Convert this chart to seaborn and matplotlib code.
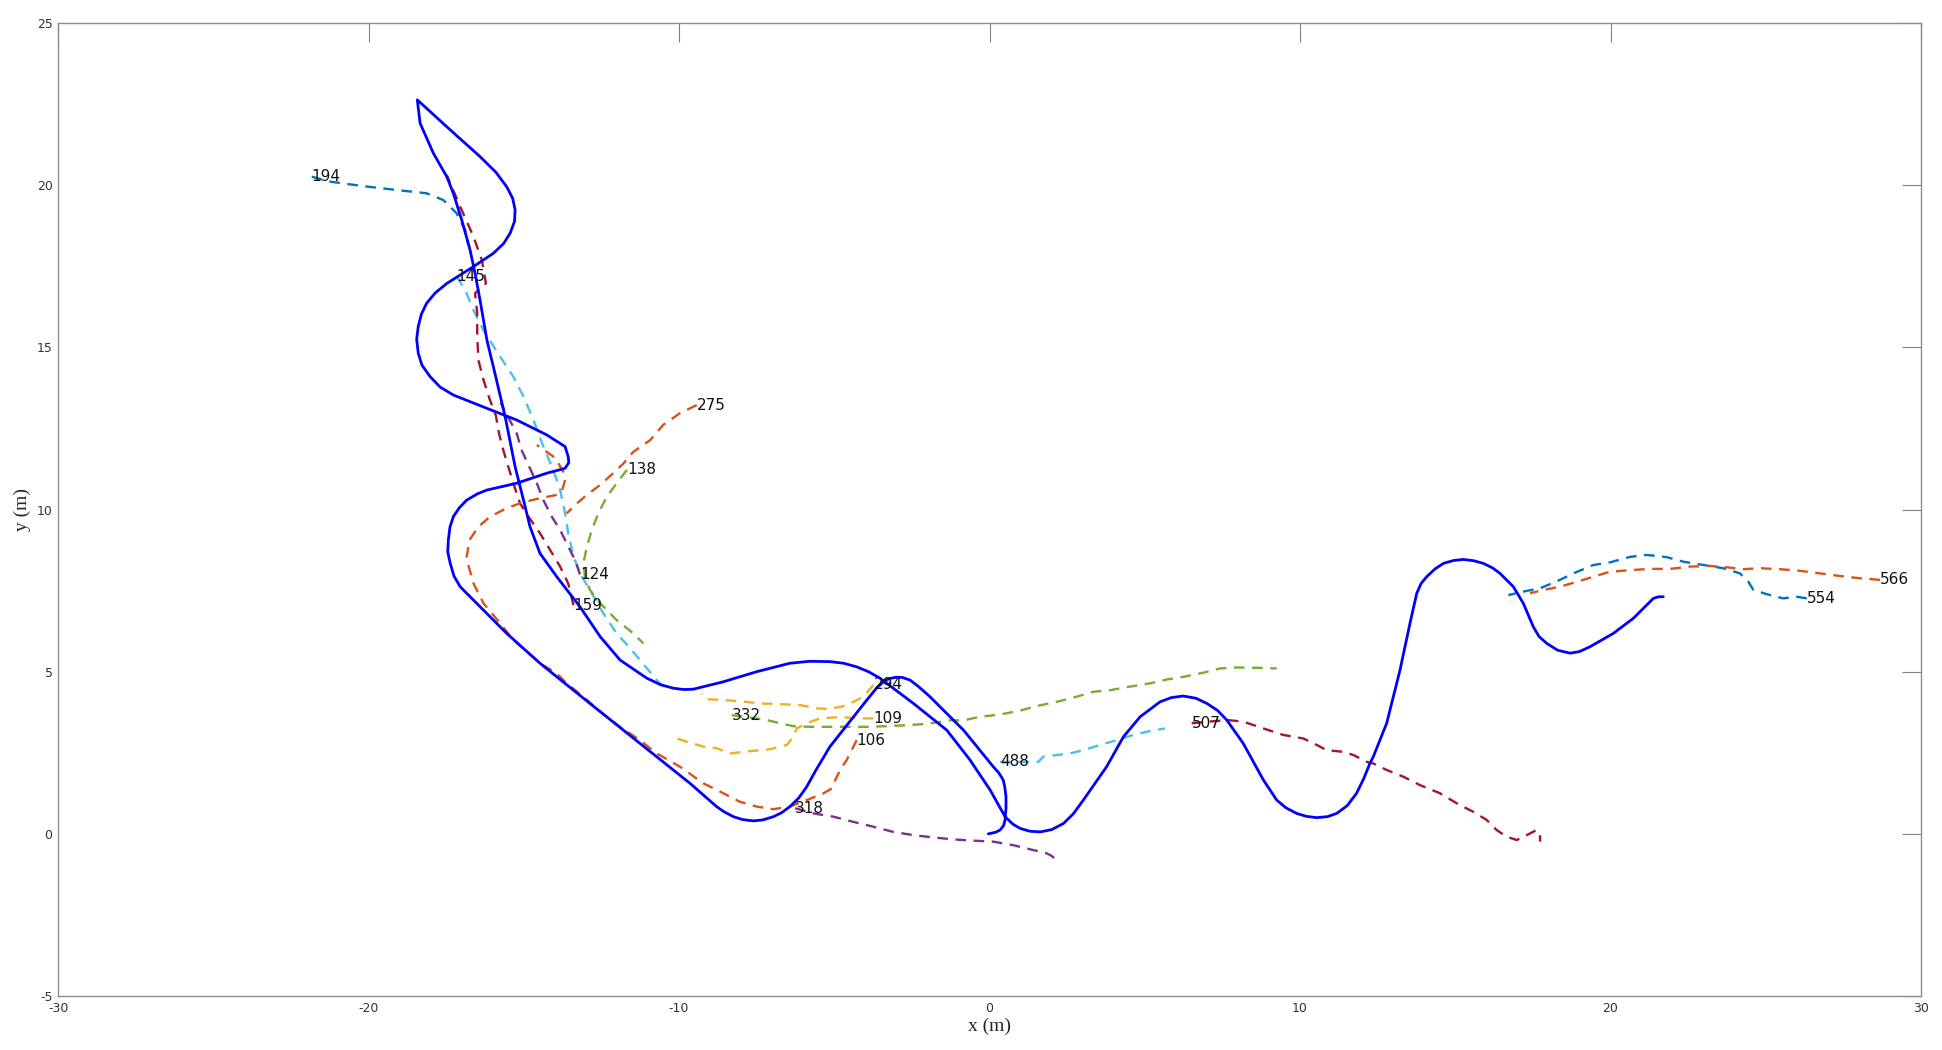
import matplotlib
matplotlib.use("Agg")
import matplotlib.pyplot as plt
import seaborn as sns
import numpy as np

# ---------------- data ----------------
ego_x = [-0.04, 0.20, 0.34, 0.45, 0.50, 0.53, 0.53, 0.49, 0.44, 0.30, 0.12, -0.84, -1.92, -2.30,
         -2.56, -2.80, -2.99, -3.22, -3.42, -3.65, -3.95, -5.14, -5.60, -5.89, -6.15, -6.43, -6.70,
         -6.96, -7.30, -7.61, -7.95, -8.25, -8.55, -8.79, -9.65, -11.26, -12.87, -14.48, -15.55,
         -16.62, -17.05, -17.25, -17.37, -17.45, -17.43, -17.38, -17.27, -17.08, -16.84, -16.50,
         -16.19, -15.23, -14.26, -13.67, -13.55, -13.57, -13.67, -14.26, -15.23, -16.19, -17.27,
         -17.70, -18.02, -18.28, -18.40, -18.45, -18.40, -18.30, -18.13, -17.85, -17.48, -16.62,
         -15.98, -15.65, -15.44, -15.30, -15.28, -15.36, -15.55, -15.90, -16.41, -17.48, -18.43,
         -18.34, -17.91, -17.48, -17.27, -17.00, -16.73, -16.57, -16.41, -16.19, -15.98, -15.60,
         -15.28, -15.01, -14.80, -14.48, -13.94, -13.19, -12.54, -11.90, -11.04, -10.60, -10.18,
         -9.85, -9.54, -8.57, -7.50, -6.43, -5.80, -5.14, -4.70, -4.28, -3.90, -3.53, -2.45, -1.38,
         -0.63, 0.02, 0.50, 0.75, 0.98, 1.30, 1.63, 2.00, 2.38, 2.70, 3.02, 3.77, 4.31, 4.85, 5.49,
         5.85, 6.24, 6.65, 7.00, 7.35, 7.64, 8.17, 8.82, 9.25, 9.55, 9.89, 10.20, 10.54, 10.88,
         11.18, 11.52, 11.82, 12.05, 12.25, 12.36, 12.79, 13.22, 13.54, 13.76, 13.90, 14.08, 14.35,
         14.62, 14.95, 15.26, 15.60, 15.90, 16.20, 16.44, 16.87, 17.19, 17.51, 17.70, 17.95, 18.30,
         18.70, 19.00, 19.34, 20.09, 20.74, 21.38, 21.55, 21.70]
ego_y = [0.00, 0.05, 0.12, 0.25, 0.43, 0.80, 1.14, 1.45, 1.66, 1.88, 2.07, 3.20, 4.23, 4.55,
         4.74, 4.82, 4.83, 4.79, 4.69, 4.48, 4.13, 2.69, 1.95, 1.45, 1.10, 0.84, 0.65,
         0.53, 0.43, 0.40, 0.44, 0.53, 0.68, 0.84, 1.56, 2.79, 4.02, 5.26, 6.18,
         7.21, 7.62, 7.95, 8.34, 8.70, 9.06, 9.45, 9.78, 10.05, 10.29, 10.48,
         10.60, 10.81, 11.12, 11.27, 11.45, 11.63, 11.94, 12.30, 12.76, 13.12, 13.53,
         13.78, 14.10, 14.45, 14.82, 15.25, 15.64, 16.02, 16.36, 16.68, 16.97, 17.49,
         17.90, 18.20, 18.52, 18.88, 19.24, 19.60, 19.95, 20.40, 20.88, 21.80, 22.63,
         21.91, 20.98, 20.26, 19.75, 18.93, 18.00, 17.28, 16.46, 15.23, 14.40, 12.86,
         11.32, 10.29, 9.47, 8.65, 7.93, 7.00, 6.08, 5.36, 4.80, 4.60, 4.49,
         4.45, 4.46, 4.69, 5.00, 5.26, 5.32, 5.31, 5.26, 5.15, 5.00, 4.80, 4.02, 3.20,
         2.28, 1.35, 0.53, 0.30, 0.17, 0.08, 0.06, 0.13, 0.32, 0.62, 1.04, 2.07, 2.99, 3.61, 4.07,
         4.20, 4.25, 4.18, 4.02, 3.80, 3.51, 2.79, 1.66, 1.04, 0.80, 0.63, 0.54, 0.50, 0.53,
         0.63, 0.87, 1.25, 1.70, 2.17, 2.38, 3.41, 5.05, 6.49, 7.42, 7.72, 7.93, 8.17,
         8.34, 8.43, 8.46, 8.42, 8.34, 8.20, 8.03, 7.62, 7.11, 6.39, 6.08, 5.87, 5.66,
         5.57, 5.62, 5.77, 6.18, 6.65, 7.26, 7.31, 7.31]

# tracked objects: first point of each track carries its ID label
track_ids = ["194", "145", "275", "138", "124", "159", "106", "294", "109",
             "332", "318", "488", "507", "554", "566"]

t194_x = [-21.83, -21.24, -20.17, -19.09, -18.13, -17.59, -17.16, -16.89, -16.80]
t194_y = [20.26, 20.11, 19.97, 19.85, 19.75, 19.54, 19.13, 18.62, 18.20]

t145_x = [-17.16, -16.89, -16.60, -16.30, -15.76, -15.34, -15.01, -14.69, -14.37, -14.05, -13.83,
          -13.67, -13.57, -13.40, -13.13, -12.81, -12.44, -12.01, -11.60, -11.26, -10.72, -10.51]
t145_y = [17.18, 16.77, 16.10, 15.53, 14.71, 14.10, 13.48, 12.76, 11.94, 11.22, 10.60,
          9.88, 9.27, 8.54, 7.93, 7.42, 6.80, 6.18, 5.75, 5.36, 4.74, 4.54]

t275_x = [-9.43, -9.97, -10.51, -10.93, -11.47, -11.79, -12.12, -12.54, -12.97, -13.29, -13.62]
t275_y = [13.22, 12.97, 12.61, 12.14, 11.78, 11.42, 11.12, 10.76, 10.45, 10.19, 9.88]

t138_x = [-11.68, -12.01, -12.33, -12.60, -12.81, -12.97, -13.08, -13.03, -12.87, -12.54, -12.01,
          -11.47, -11.15]
t138_y = [11.22, 10.81, 10.39, 9.88, 9.37, 8.85, 8.34, 7.93, 7.52, 7.11, 6.59, 6.18, 5.87]

t124_x = [-13.19, -13.35, -13.46, -13.67, -13.83, -14.10, -14.37, -14.58, -14.80, -15.07, -15.23,
          -15.60, -15.75]
t124_y = [8.00, 8.44, 8.65, 9.06, 9.37, 9.78, 10.29, 10.81, 11.27, 11.83, 12.35, 13.02, 13.30]

t159_x = [-13.40, -13.57, -13.83, -14.15, -14.48, -14.85, -15.12, -15.30, -15.50, -15.66, -15.80,
          -15.90, -16.10, -16.30, -16.46, -16.50, -16.50, -16.57, -16.22, -16.35, -16.62, -17.05,
          -17.48]
t159_y = [7.05, 7.72, 8.24, 8.75, 9.27, 9.78, 10.19, 10.70, 11.32, 11.83, 12.35,
          12.90, 13.40, 14.00, 14.60, 15.33, 16.05, 16.67, 16.97, 17.69, 18.41, 19.34,
          20.31]

t106_x = [-4.28, -4.44, -4.60, -4.81, -4.97, -5.08, -5.35, -5.89, -6.43, -6.96, -7.50, -8.04,
          -8.57, -9.22, -9.97, -10.72, -11.26, -11.90, -12.54, -13.08, -13.62, -13.94, -14.48,
          -14.90, -15.34, -15.76, -16.30, -16.62, -16.79, -16.84, -16.75, -16.46, -16.09, -15.55,
          -15.07, -14.48, -13.94, -13.78, -13.67, -13.73, -14.00, -14.58]
t106_y = [2.89, 2.58, 2.28, 1.97, 1.66, 1.40, 1.25, 1.04, 0.84, 0.76, 0.84, 0.99,
          1.25, 1.56, 2.07, 2.48, 2.89, 3.30, 3.77, 4.23, 4.64, 4.95, 5.26,
          5.62, 5.98, 6.49, 7.11, 7.72, 8.30, 8.54, 9.06, 9.47, 9.78, 10.04,
          10.21, 10.35, 10.45, 10.55, 10.91, 11.17, 11.60, 11.99]

t294_x = [-3.74, -4.06, -4.39, -4.76, -5.20, -5.57, -6.10, -6.75, -7.39, -8.04, -8.62, -9.11, -9.27]
t294_y = [4.59, 4.23, 4.07, 3.92, 3.85, 3.87, 3.97, 4.00, 4.02, 4.09, 4.13, 4.15, 4.33]

t109_x = [-3.74, -4.20, -4.80, -5.46, -5.89, -6.21, -6.32, -6.53, -7.07, -7.71, -8.36, -8.79,
          -9.22, -9.75, -10.07]
t109_y = [3.56, 3.56, 3.60, 3.56, 3.41, 3.25, 2.99, 2.74, 2.61, 2.55, 2.48, 2.64,
          2.69, 2.84, 2.94]

t332_x = [-8.30, -7.18, -6.75, -6.32, -5.78, -5.24, -4.60, -3.95, -3.31, -2.67, -2.02, -1.27,
          -0.84, -0.31, 0.34, 0.98, 1.52, 2.16, 2.81, 3.34, 3.88, 4.52, 5.17, 5.71, 6.24, 6.89,
          7.42, 7.96, 8.61, 9.25]
t332_y = [3.66, 3.51, 3.41, 3.32, 3.30, 3.30, 3.30, 3.30, 3.32, 3.35, 3.39, 3.50,
          3.50, 3.61, 3.68, 3.80, 3.94, 4.07, 4.23, 4.38, 4.43, 4.54, 4.64, 4.76, 4.84, 4.97,
          5.10, 5.13, 5.12, 5.10]

t318_x = [-6.26, -5.67, -5.03, -4.39, -3.74, -3.10, -2.45, -1.81, -1.17, -0.52, 0.12, 0.77,
          1.41, 1.84, 2.00, 2.22]
t318_y = [0.79, 0.63, 0.53, 0.37, 0.22, 0.06, -0.04, -0.11, -0.17, -0.21, -0.24, -0.35,
          -0.50, -0.60, -0.68, -0.86]

t488_x = [0.34, 1.57, 1.73, 2.16, 2.59, 3.02, 3.56, 4.10, 4.63, 5.17, 5.65]
t488_y = [2.22, 2.22, 2.38, 2.43, 2.48, 2.58, 2.74, 2.89, 3.05, 3.17, 3.25]

t507_x = [6.51, 7.64, 8.17, 8.82, 9.46, 10.11, 10.54, 10.86, 11.39, 11.72, 12.15, 12.36, 12.79,
          13.33, 13.87, 14.51, 15.05, 15.58, 16.01, 16.33, 16.66, 16.98, 17.30, 17.62, 17.73, 17.73]
t507_y = [3.41, 3.51, 3.46, 3.25, 3.05, 2.94, 2.74, 2.58, 2.53, 2.43, 2.22, 2.17, 1.97,
          1.76, 1.50, 1.25, 0.94, 0.68, 0.43, 0.12, -0.09, -0.19, -0.04, 0.12, -0.04, -0.24]

t554_x = [26.32, 26.00, 25.56, 25.03, 24.60, 24.44, 24.17, 23.63, 22.99, 22.35, 21.81, 21.17,
          20.63, 19.98, 19.45, 18.80, 18.37, 17.73, 17.19, 16.71]
t554_y = [7.26, 7.31, 7.26, 7.39, 7.52, 7.77, 8.03, 8.19, 8.29, 8.39, 8.53, 8.60,
          8.54, 8.37, 8.29, 8.03, 7.83, 7.57, 7.47, 7.36]

t566_x = [28.68, 28.04, 27.39, 26.75, 26.10, 25.46, 24.81, 24.28, 23.74, 23.20, 22.56, 21.92,
          21.27, 20.63, 19.98, 19.45, 18.91, 18.37, 17.84, 17.41]
t566_y = [7.83, 7.88, 7.95, 8.03, 8.11, 8.16, 8.19, 8.16, 8.22, 8.26, 8.24, 8.17,
          8.17, 8.13, 8.08, 7.93, 7.77, 7.62, 7.52, 7.42]

tracks_x = [t194_x, t145_x, t275_x, t138_x, t124_x, t159_x, t106_x, t294_x, t109_x,
            t332_x, t318_x, t488_x, t507_x, t554_x, t566_x]
tracks_y = [t194_y, t145_y, t275_y, t138_y, t124_y, t159_y, t106_y, t294_y, t109_y,
            t332_y, t318_y, t488_y, t507_y, t554_y, t566_y]

track_colors = ["#0072BD", "#4DBEEE", "#D95319", "#77AC30", "#7E2F8E", "#A2142F", "#D95319",
                "#EDB120", "#EDB120", "#77AC30", "#7E2F8E", "#4DBEEE", "#A2142F", "#0072BD",
                "#D95319"]

x_ticks = [-30, -20, -10, 0, 10, 20, 30]
y_ticks = [-5, 0, 5, 10, 15, 20, 25]

# ---------------- plot ----------------
sns.set_style("white")
plt.rcParams['font.family'] = ['DejaVu Sans']

fig = plt.figure(figsize=(19.42, 10.5), dpi=100)
ax = fig.add_axes([0.0299, 0.0514, 0.9593, 0.9267])

sns.lineplot(x=ego_x, y=ego_y, sort=False, estimator=None, color="#0000FF",
             linewidth=2.0, ax=ax, zorder=3)

for tid, xs, ys, c in zip(track_ids, tracks_x, tracks_y, track_colors):
    sns.lineplot(x=xs, y=ys, sort=False, estimator=None, color=c, linewidth=1.7,
                 linestyle=(0, (4.5, 3.2)), ax=ax, zorder=2)
    ax.text(xs[0], ys[0], tid, ha="left", va="center", fontsize=11,
            color="#111111", zorder=4)

ax.set_xlim(-30, 30)
ax.set_ylim(-5, 25)
ax.set_xticks(x_ticks)
ax.set_yticks(y_ticks)
ax.set_xticklabels([str(v) for v in x_ticks])
ax.set_yticklabels([str(v) for v in y_ticks])
ax.tick_params(direction="in", length=13.5, width=0.8, color="#808080",
               labelsize=9, labelcolor="#333333", top=True, right=True, pad=4)
for sp in ax.spines.values():
    sp.set_visible(True)
    sp.set_color("#8c8c8c")
    sp.set_linewidth(1.0)

ax.set_xlabel("x (m)", fontsize=14, family=["Liberation Serif"], labelpad=2)
ax.set_ylabel("y (m)", fontsize=14, family=["Liberation Serif"], labelpad=4)

fig.savefig("out.png", dpi=100, facecolor="white")
